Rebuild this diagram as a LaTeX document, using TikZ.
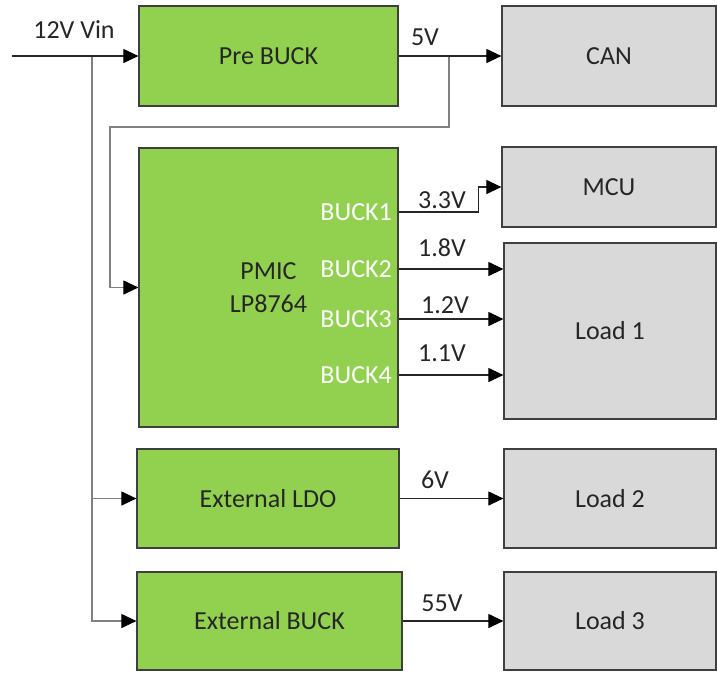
\documentclass[tikz,border=0pt]{standalone}
\usepackage{fontspec}
\setmainfont{Carlito}
\usetikzlibrary{arrows.meta,positioning,calc}

\definecolor{convgreen}{HTML}{92D050}
\definecolor{loadgray}{HTML}{D9D9D9}
\definecolor{edgegray}{HTML}{3F3F3F}
\definecolor{tapgray}{HTML}{808080}
\definecolor{labeltext}{HTML}{262626}

\begin{document}
\begin{tikzpicture}[x=1pt, y=-1pt,
    font=\fontsize{26}{33}\selectfont, text=labeltext,
    >={Triangle[length=15pt, width=14pt, color=black]},
    block/.style={draw=edgegray, line width=1.2pt, fill=convgreen, inner sep=0pt, align=center},
    sink/.style={block, fill=loadgray},
    wire/.style={line width=1.1pt, draw=black!85, ->},
    tap/.style={line width=1.1pt, draw=tapgray},
    pin/.style={text=white, anchor=east, inner sep=0pt},
    volt/.style={inner sep=0pt}]
    \useasboundingbox (0,0) rectangle (717,673);

    % Converters
    \node[block, minimum width=259pt, minimum height=100pt] (pre) at (268.5,56) {Pre BUCK};
    \node[block, minimum width=259pt, minimum height=279pt] (pmic) at (268.5,287.5) {PMIC\\LP8764};
    \node[block, minimum width=262pt, minimum height=99pt] (ldo) at (268,498.5) {External LDO};
    \node[block, minimum width=265pt, minimum height=98pt] (ext) at (269.5,621) {External BUCK};

    % Loads
    \node[sink, minimum width=214pt, minimum height=100pt] (can) at (609,56) {CAN};
    \node[sink, minimum width=214pt, minimum height=80pt] (mcu) at (609,187) {MCU};
    \node[sink, minimum width=212pt, minimum height=176pt] (load1) at (610,331) {Load 1};
    \node[sink, minimum width=212pt, minimum height=99pt] (load2) at (610,498.5) {Load 2};
    \node[sink, minimum width=212pt, minimum height=98pt] (load3) at (610,621) {Load 3};

    % PMIC outputs
    \node[pin] (b1) at (392,212) {BUCK1};
    \node[pin] (b2) at (392,269) {BUCK2};
    \node[pin] (b3) at (392,319) {BUCK3};
    \node[pin] (b4) at (392,375) {BUCK4};

    % Input and 5V rail
    \coordinate (vin) at (12,56);
    \coordinate (vtap) at (92,56);
    \coordinate (fb) at (449,56);
    \coordinate (fbturn) at (110,127);
    \node[volt] (vinlbl) at (74,30) {12V Vin};
    \node[volt] (v5) at (425,37) {5V};

    \draw[tap, ->] (vtap) |- (ldo.west);
    \draw[tap, ->] (vtap) |- (ext.west);
    \draw[tap, ->] (fb) |- (fbturn) |- (pmic.west);
    \draw[wire] (vin) -- (pre.west);
    \draw[wire] (pre) -- (can);

    % PMIC rails
    \draw[wire] (pmic.east |- b1) -- ++(80,0) |- (mcu.west);
    \draw[wire] (pmic.east |- b2) -- (load1.west |- b2);
    \draw[wire] (pmic.east |- b3) -- (load1.west |- b3);
    \draw[wire] (pmic.east |- b4) -- (load1.west |- b4);
    \node[volt] (v33) at (442,200) {3.3V};
    \node[volt] (v18) at (442,248) {1.8V};
    \node[volt] (v12) at (445,305) {1.2V};
    \node[volt] (v11) at (442,353) {1.1V};

    % External rails
    \draw[wire] (ldo) -- (load2);
    \draw[wire] (ext) -- (load3);
    \node[volt] (v6) at (435,480) {6V};
    \node[volt] (v55) at (442,603) {55V};
\end{tikzpicture}
\end{document}
